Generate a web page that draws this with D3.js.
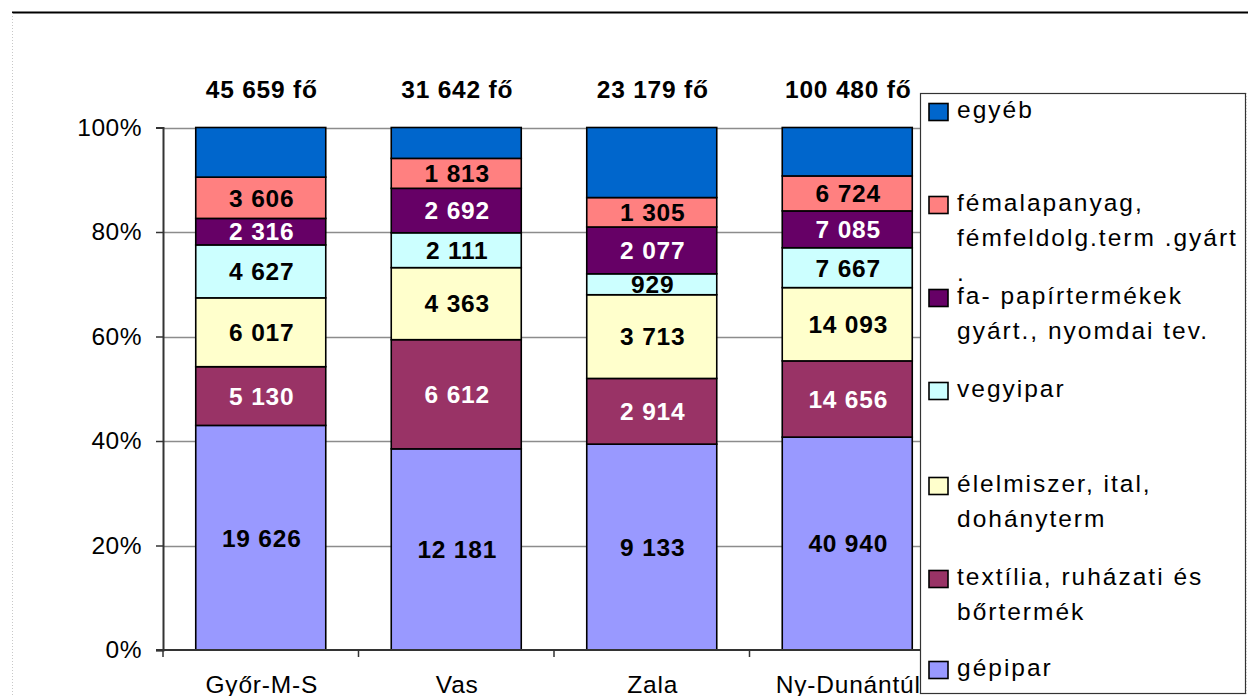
<!DOCTYPE html>
<html>
<head>
<meta charset="utf-8">
<script src="https://cdn.jsdelivr.net/npm/d3@7"></script>
<style>
  body { margin: 0; background: #fff; }
  svg { display: block; font-family: "Liberation Sans", Arial, sans-serif; }
</style>
</head>
<body>
<svg id="chart" width="1248" height="696"></svg>
<script>
// categories and values
const categories = ["Győr-M-S", "Vas", "Zala", "Ny-Dunántúl"];
const totalLabels = ["45 659 fő", "31 642 fő", "23 179 fő", "100 480 fő"];

const gepipar = [19626, 12181, 9133, 40940];
const textilia = [5130, 6612, 2914, 14656];
const elelmiszer = [6017, 4363, 3713, 14093];
const vegyipar = [4627, 2111, 929, 7667];
const faPapir = [2316, 2692, 2077, 7085];
const femalap = [3606, 1813, 1305, 6724];
const egyeb = [4337, 1870, 3108, 9315];

const yTicks = [0, 0.2, 0.4, 0.6, 0.8, 1];

// series bottom -> top
const series = [
  { key: "gepipar", name: ["gépipar"], values: gepipar, color: "#9999FF", text: "#000", label: true },
  { key: "textilia", name: ["textília, ruházati és", "bőrtermék"], values: textilia, color: "#993366", text: "#fff", label: true },
  { key: "elelmiszer", name: ["élelmiszer, ital,", "dohányterm"], values: elelmiszer, color: "#FFFFCC", text: "#000", label: true },
  { key: "vegyipar", name: ["vegyipar"], values: vegyipar, color: "#CCFFFF", text: "#000", label: true },
  { key: "faPapir", name: ["fa- papírtermékek", "gyárt., nyomdai tev."], values: faPapir, color: "#660066", text: "#fff", label: true },
  { key: "femalap", name: ["fémalapanyag,", "fémfeldolg.term .gyárt", "."], values: femalap, color: "#FF8080", text: "#000", label: true },
  { key: "egyeb", name: ["egyéb"], values: egyeb, color: "#0066CC", text: "#fff", label: false }
];

const fmt = (v) => d3.format(",")(v).replace(/,/g, " ");

// build rows for the stack
const rows = categories.map((c, i) => {
  const r = { cat: c };
  series.forEach((s) => (r[s.key] = s.values[i]));
  return r;
});

const stack = d3.stack()
  .keys(series.map((s) => s.key))
  .offset(d3.stackOffsetExpand);
const stacked = stack(rows);

const plot = { left: 163, right: 945, top: 127.5, bottom: 650 };

const x = d3.scaleBand()
  .domain(categories)
  .range([plot.left, plot.right])
  .paddingInner(0.335)
  .paddingOuter(0.1675);

const y = d3.scaleLinear().domain([0, 1]).range([plot.bottom, plot.top]);

const svg = d3.select("#chart");

// outer frame
svg.append("line")
  .attr("x1", 12).attr("x2", 1248).attr("y1", 12.5).attr("y2", 12.5)
  .attr("stroke", "#000").attr("stroke-width", 2);
svg.append("line")
  .attr("x1", 12.5).attr("x2", 12.5).attr("y1", 13).attr("y2", 696)
  .attr("stroke", "#c8c8c8").attr("stroke-dasharray", "1,2");

// gridlines
svg.append("g")
  .selectAll("line")
  .data(yTicks.filter((t) => t > 0))
  .enter()
  .append("line")
  .attr("x1", plot.left).attr("x2", plot.right)
  .attr("y1", (d) => Math.round(y(d)) + 0.5).attr("y2", (d) => Math.round(y(d)) + 0.5)
  .attr("stroke", "#8c8c8c").attr("stroke-width", 1.3);

// bars
const layer = svg.append("g")
  .selectAll("g")
  .data(stacked)
  .enter()
  .append("g")
  .attr("fill", (d, i) => series[i].color);

layer.selectAll("rect")
  .data((d) => d)
  .enter()
  .append("rect")
  .attr("x", (d) => x(d.data.cat))
  .attr("y", (d) => y(d[1]))
  .attr("width", x.bandwidth())
  .attr("height", (d) => y(d[0]) - y(d[1]))
  .attr("stroke", "#000")
  .attr("stroke-width", 1.6);

// value labels inside bars
stacked.forEach((lay, i) => {
  const s = series[i];
  if (!s.label) return;
  svg.append("g")
    .selectAll("text")
    .data(lay)
    .enter()
    .append("text")
    .attr("x", (d) => x(d.data.cat) + x.bandwidth() / 2 + 1)
    .attr("y", (d) => (y(d[0]) + y(d[1])) / 2)
    .attr("dy", "0.36em")
    .attr("text-anchor", "middle")
    .attr("font-size", 24.5)
    .attr("font-weight", "bold")
    .attr("letter-spacing", 0.8)
    .attr("fill", s.text)
    .text((d, j) => fmt(s.values[j]));
});

// y axis
const yAxis = d3.axisLeft(y)
  .tickValues(yTicks)
  .tickSize(7)
  .tickPadding(14)
  .tickFormat(d3.format(".0%"));

const gy = svg.append("g")
  .attr("transform", `translate(${plot.left},0)`)
  .call(yAxis);
gy.select(".domain").attr("stroke", "#333").attr("stroke-width", 2);
gy.selectAll(".tick line").attr("stroke", "#333").attr("stroke-width", 1.5);
gy.selectAll(".tick text")
  .attr("font-size", 24.5)
  .attr("letter-spacing", 0.5)
  .attr("fill", "#000")
  .attr("font-family", "Liberation Sans, Arial, sans-serif");

// x axis line + ticks at band boundaries
const step = x.step();
const xTickPos = categories.map((c) => x(c) - (step - x.bandwidth()) / 2).concat([plot.right]);
svg.append("line")
  .attr("x1", plot.left - 7).attr("x2", plot.right)
  .attr("y1", plot.bottom).attr("y2", plot.bottom)
  .attr("stroke", "#333").attr("stroke-width", 2);
svg.append("g")
  .selectAll("line")
  .data(xTickPos)
  .enter()
  .append("line")
  .attr("x1", (d) => d).attr("x2", (d) => d)
  .attr("y1", plot.bottom).attr("y2", plot.bottom + 7)
  .attr("stroke", "#333").attr("stroke-width", 1.5);

// category labels
svg.append("g")
  .selectAll("text")
  .data(categories)
  .enter()
  .append("text")
  .attr("x", (d) => x(d) + x.bandwidth() / 2 + 1)
  .attr("y", 693)
  .attr("text-anchor", "middle")
  .attr("font-size", 24.5)
  .attr("letter-spacing", 0.8)
  .text((d) => d);

// totals above bars
svg.append("g")
  .selectAll("text")
  .data(categories)
  .enter()
  .append("text")
  .attr("x", (d) => x(d) + x.bandwidth() / 2 + 1)
  .attr("y", 98)
  .attr("text-anchor", "middle")
  .attr("font-size", 24.5)
  .attr("font-weight", "bold")
  .attr("letter-spacing", 0.8)
  .text((d, i) => totalLabels[i]);

// legend
const legend = svg.append("g");
legend.append("rect")
  .attr("x", 920.5).attr("y", 93.5)
  .attr("width", 325).attr("height", 600)
  .attr("fill", "#fff")
  .attr("stroke", "#333").attr("stroke-width", 1.2);

const legendOrder = series.slice().reverse();
const legendY = [112, 205, 298, 391, 486, 579, 670];
const lineGap = 35;

const items = legend.selectAll("g.item")
  .data(legendOrder)
  .enter()
  .append("g")
  .attr("class", "item")
  .attr("transform", (d, i) => `translate(0, ${legendY[i]})`);

items.append("rect")
  .attr("x", 929).attr("y", -8.5)
  .attr("width", 19).attr("height", 17)
  .attr("fill", (d) => d.color)
  .attr("stroke", "#000").attr("stroke-width", 1.6);

items.each(function (d) {
  const g = d3.select(this);
  d.name.forEach((line, k) => {
    g.append("text")
      .attr("x", 957)
      .attr("y", k * lineGap)
      .attr("dy", "0.26em")
      .attr("font-size", 24.5)
      .attr("letter-spacing", 2)
      .text(line);
  });
});

svg.append("line")
  .attr("x1", 1246.5).attr("x2", 1246.5).attr("y1", 93).attr("y2", 696)
  .attr("stroke", "#c8c8c8").attr("stroke-dasharray", "1,2");
</script>
</body>
</html>
